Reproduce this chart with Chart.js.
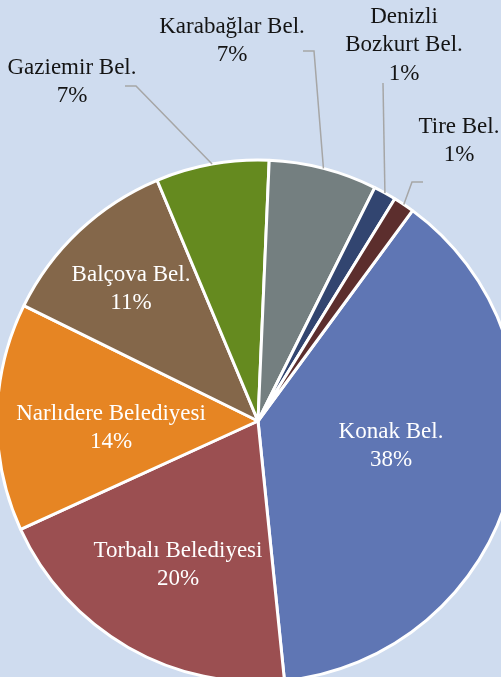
<!DOCTYPE html>
<html>
<head>
<meta charset="utf-8">
<script src="https://cdn.jsdelivr.net/npm/chart.js@4.4.1/dist/chart.umd.min.js"></script>
<style>
  html, body { margin: 0; padding: 0; width: 501px; height: 677px; overflow: hidden; background: #cfdcef; }
  #wrap { position: absolute; left: 0; top: 0; width: 516px; height: 842px; }
</style>
</head>
<body>
<div id="wrap"><canvas id="c" width="516" height="842"></canvas></div>
<script>
// ---- data ----
const categories = ["Konak Bel.", "Torbalı Belediyesi", "Narlıdere Belediyesi", "Balçova Bel.",
                    "Gaziemir Bel.", "Karabağlar Bel.", "Denizli Bozkurt Bel.", "Tire Bel."];
const shares = [38.3, 19.8, 14.1, 11.4, 7.0, 6.7, 1.4, 1.3];

// ---- styling / layout (not data) ----
const sliceColors = ["#5f76b4", "#9b4f51", "#e68523", "#84674a", "#658a1f", "#747f80", "#324570", "#5c2e2d"];
// label text block centre relative to pie centre; leader elbow/end relative to pie centre
const labelLayout = [
  { inside: true,  tx: 133,  ty: 25 },
  { inside: true,  tx: -80,  ty: 144 },
  { inside: true,  tx: -147, ty: 7 },
  { inside: true,  tx: -127, ty: -132 },
  { inside: false, tx: -186, ty: -339, ex: -122, ey: -335, hx: -133 },
  { inside: false, tx: -26,  ty: -380, ex: 56,   ey: -370, hx: 45 },
  { inside: false, tx: 146,  ty: -376, ex: 125,  ey: -338, hx: 125, wrap: true },
  { inside: false, tx: 201,  ty: -280, ex: 154,  ey: -239, hx: 165 }
];
const FONT = '23px "Liberation Serif", "Times New Roman", serif';
const LINE_H = 28.5;

const labelPlugin = {
  id: 'pieLabels',
  afterDatasetsDraw(chart) {
    const ctx = chart.ctx;
    const meta = chart.getDatasetMeta(0);
    const data = chart.data.datasets[0].data;
    const total = data.reduce((a, b) => a + b, 0);
    ctx.save();
    ctx.font = FONT;
    ctx.textAlign = 'center';
    ctx.textBaseline = 'middle';
    meta.data.forEach((arc, i) => {
      const L = labelLayout[i];
      const cx = arc.x, cy = arc.y;
      const pct = Math.round(data[i] / total * 100) + '%';
      let lines;
      const name = chart.data.labels[i];
      if (L.wrap) {
        const k = name.indexOf(' ');
        lines = [name.slice(0, k), name.slice(k + 1), pct];
      } else {
        lines = [name, pct];
      }
      if (!L.inside) {
        const mid = (arc.startAngle + arc.endAngle) / 2;
        const sx = cx + Math.cos(mid) * arc.outerRadius;
        const sy = cy + Math.sin(mid) * arc.outerRadius;
        ctx.strokeStyle = '#a6a6a6';
        ctx.lineWidth = 1.5;
        ctx.beginPath();
        ctx.moveTo(sx, sy);
        ctx.lineTo(cx + L.ex, cy + L.ey);
        ctx.lineTo(cx + L.hx, cy + L.ey);
        ctx.stroke();
      }
      ctx.fillStyle = L.inside ? '#ffffff' : '#141414';
      const x = cx + L.tx;
      const y0 = cy + L.ty - (lines.length - 1) * LINE_H / 2;
      lines.forEach((t, j) => ctx.fillText(t, x, y0 + j * LINE_H));
    });
    ctx.restore();
  }
};

new Chart(document.getElementById('c'), {
  type: 'pie',
  data: {
    labels: categories,
    datasets: [{
      data: shares,
      backgroundColor: sliceColors,
      borderColor: '#ffffff',
      borderWidth: 3
    }]
  },
  options: {
    responsive: false,
    animation: false,
    rotation: 36.3,
    radius: 261,
    layout: { padding: 0 },
    plugins: { legend: { display: false }, tooltip: { enabled: false } }
  },
  plugins: [labelPlugin]
});
</script>
</body>
</html>
